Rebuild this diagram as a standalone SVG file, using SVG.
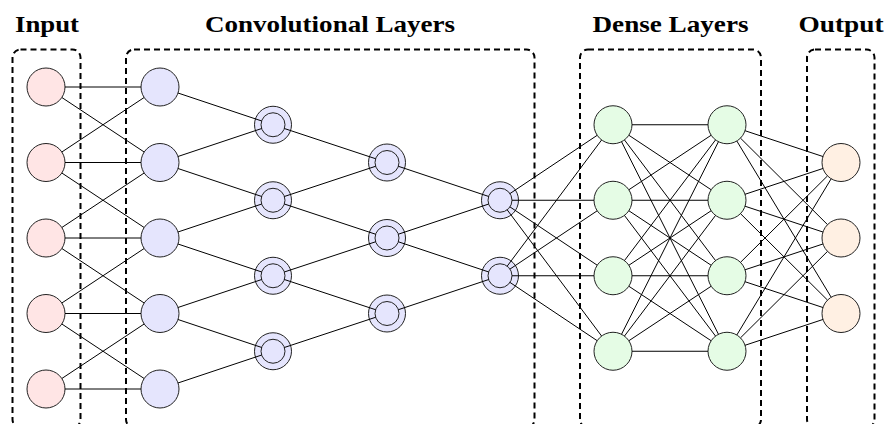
<svg xmlns="http://www.w3.org/2000/svg" width="887" height="424" viewBox="0 0 887 424">
<style>
.title{font-family:"Liberation Serif","Times New Roman",serif;font-weight:bold;font-size:24px;fill:#000;text-anchor:middle}
.box{fill:none;stroke:#000;stroke-width:2;stroke-dasharray:6 4}
.n{stroke:#222;stroke-width:1}
.in{fill:#ffe5e5}
.cv{fill:#e5e5fd}
.ds{fill:#e5fce5}
.out{fill:#fff0e3}
#connectors line{stroke:#000;stroke-width:1}
</style>
<rect width="887" height="424" fill="#fff"/>
<g id="titles">
<text class="title" x="47" y="32" textLength="64" lengthAdjust="spacingAndGlyphs">Input</text>
<text class="title" x="330" y="32" textLength="250" lengthAdjust="spacingAndGlyphs">Convolutional Layers</text>
<text class="title" x="670.5" y="32" textLength="156" lengthAdjust="spacingAndGlyphs">Dense Layers</text>
<text class="title" x="841" y="32" textLength="85" lengthAdjust="spacingAndGlyphs">Output</text>
</g>
<g id="boxes">
<rect id="box-input" class="box" x="12.5" y="49.5" width="68" height="378" rx="8"/>
<rect id="box-conv" class="box" x="126" y="49.5" width="408.5" height="378" rx="8"/>
<rect id="box-dense" class="box" x="580" y="49.5" width="181" height="378" rx="8"/>
<rect id="box-output" class="box" x="807" y="49.5" width="67.5" height="378" rx="8"/>
</g>
<g id="nodes">
<g id="in1"><circle class="n in" cx="46" cy="87" r="19"/></g>
<g id="in2"><circle class="n in" cx="46" cy="162.5" r="19"/></g>
<g id="in3"><circle class="n in" cx="46" cy="238" r="19"/></g>
<g id="in4"><circle class="n in" cx="46" cy="313.5" r="19"/></g>
<g id="in5"><circle class="n in" cx="46" cy="389" r="19"/></g>
<g id="c1_1"><circle class="n cv" cx="160" cy="87" r="19"/></g>
<g id="c1_2"><circle class="n cv" cx="160" cy="162.5" r="19"/></g>
<g id="c1_3"><circle class="n cv" cx="160" cy="238" r="19"/></g>
<g id="c1_4"><circle class="n cv" cx="160" cy="313.5" r="19"/></g>
<g id="c1_5"><circle class="n cv" cx="160" cy="389" r="19"/></g>
<g id="c2_1"><circle class="n cv" cx="273" cy="124.75" r="18.5"/><circle class="n cv" cx="273" cy="124.75" r="12"/></g>
<g id="c2_2"><circle class="n cv" cx="273" cy="200.25" r="18.5"/><circle class="n cv" cx="273" cy="200.25" r="12"/></g>
<g id="c2_3"><circle class="n cv" cx="273" cy="275.75" r="18.5"/><circle class="n cv" cx="273" cy="275.75" r="12"/></g>
<g id="c2_4"><circle class="n cv" cx="273" cy="351.25" r="18.5"/><circle class="n cv" cx="273" cy="351.25" r="12"/></g>
<g id="c3_1"><circle class="n cv" cx="387" cy="162.5" r="18.5"/><circle class="n cv" cx="387" cy="162.5" r="12"/></g>
<g id="c3_2"><circle class="n cv" cx="387" cy="238" r="18.5"/><circle class="n cv" cx="387" cy="238" r="12"/></g>
<g id="c3_3"><circle class="n cv" cx="387" cy="313.5" r="18.5"/><circle class="n cv" cx="387" cy="313.5" r="12"/></g>
<g id="c4_1"><circle class="n cv" cx="500" cy="200.25" r="18.5"/><circle class="n cv" cx="500" cy="200.25" r="12"/></g>
<g id="c4_2"><circle class="n cv" cx="500" cy="275.75" r="18.5"/><circle class="n cv" cx="500" cy="275.75" r="12"/></g>
<g id="d1_1"><circle class="n ds" cx="613" cy="124.75" r="19"/></g>
<g id="d1_2"><circle class="n ds" cx="613" cy="200.25" r="19"/></g>
<g id="d1_3"><circle class="n ds" cx="613" cy="275.75" r="19"/></g>
<g id="d1_4"><circle class="n ds" cx="613" cy="351.25" r="19"/></g>
<g id="d2_1"><circle class="n ds" cx="727" cy="124.75" r="19"/></g>
<g id="d2_2"><circle class="n ds" cx="727" cy="200.25" r="19"/></g>
<g id="d2_3"><circle class="n ds" cx="727" cy="275.75" r="19"/></g>
<g id="d2_4"><circle class="n ds" cx="727" cy="351.25" r="19"/></g>
<g id="out1"><circle class="n out" cx="841" cy="162.5" r="19"/></g>
<g id="out2"><circle class="n out" cx="841" cy="238" r="19"/></g>
<g id="out3"><circle class="n out" cx="841" cy="313.5" r="19"/></g>
</g>
<g id="connectors">
<line x1="65" y1="87" x2="141" y2="87"/>
<line x1="65" y1="162.5" x2="141" y2="162.5"/>
<line x1="65" y1="238" x2="141" y2="238"/>
<line x1="65" y1="313.5" x2="141" y2="313.5"/>
<line x1="65" y1="389" x2="141" y2="389"/>
<line x1="61.84" y1="97.49" x2="144.16" y2="152.01"/>
<line x1="61.84" y1="172.99" x2="144.16" y2="227.51"/>
<line x1="61.84" y1="248.49" x2="144.16" y2="303.01"/>
<line x1="61.84" y1="323.99" x2="144.16" y2="378.51"/>
<line x1="61.84" y1="152.01" x2="144.16" y2="97.49"/>
<line x1="61.84" y1="227.51" x2="144.16" y2="172.99"/>
<line x1="61.84" y1="303.01" x2="144.16" y2="248.49"/>
<line x1="61.84" y1="378.51" x2="144.16" y2="323.99"/>
<line x1="178.02" y1="93.02" x2="261.62" y2="120.95"/>
<line x1="178.02" y1="168.52" x2="261.62" y2="196.45"/>
<line x1="178.02" y1="244.02" x2="261.62" y2="271.95"/>
<line x1="178.02" y1="319.52" x2="261.62" y2="347.45"/>
<line x1="178.02" y1="156.48" x2="261.62" y2="128.55"/>
<line x1="178.02" y1="231.98" x2="261.62" y2="204.05"/>
<line x1="178.02" y1="307.48" x2="261.62" y2="279.55"/>
<line x1="178.02" y1="382.98" x2="261.62" y2="355.05"/>
<line x1="284.39" y1="128.52" x2="375.61" y2="158.73"/>
<line x1="284.39" y1="204.02" x2="375.61" y2="234.23"/>
<line x1="284.39" y1="279.52" x2="375.61" y2="309.73"/>
<line x1="284.39" y1="196.48" x2="375.61" y2="166.27"/>
<line x1="284.39" y1="271.98" x2="375.61" y2="241.77"/>
<line x1="284.39" y1="347.48" x2="375.61" y2="317.27"/>
<line x1="398.38" y1="166.3" x2="488.62" y2="196.45"/>
<line x1="398.38" y1="241.8" x2="488.62" y2="271.95"/>
<line x1="398.38" y1="234.2" x2="488.62" y2="204.05"/>
<line x1="398.38" y1="309.7" x2="488.62" y2="279.55"/>
<line x1="509.98" y1="193.58" x2="597.2" y2="135.31"/>
<line x1="512" y1="200.25" x2="594" y2="200.25"/>
<line x1="509.98" y1="206.92" x2="597.2" y2="265.19"/>
<line x1="507.19" y1="209.86" x2="601.62" y2="336.04"/>
<line x1="507.19" y1="266.14" x2="601.62" y2="139.96"/>
<line x1="509.98" y1="269.08" x2="597.2" y2="210.81"/>
<line x1="512" y1="275.75" x2="594" y2="275.75"/>
<line x1="509.98" y1="282.42" x2="597.2" y2="340.69"/>
<line x1="632" y1="124.75" x2="708" y2="124.75"/>
<line x1="628.84" y1="135.24" x2="711.16" y2="189.76"/>
<line x1="624.45" y1="139.91" x2="715.55" y2="260.59"/>
<line x1="621.54" y1="141.72" x2="718.46" y2="334.28"/>
<line x1="628.84" y1="189.76" x2="711.16" y2="135.24"/>
<line x1="632" y1="200.25" x2="708" y2="200.25"/>
<line x1="628.84" y1="210.74" x2="711.16" y2="265.26"/>
<line x1="624.45" y1="215.41" x2="715.55" y2="336.09"/>
<line x1="624.45" y1="260.59" x2="715.55" y2="139.91"/>
<line x1="628.84" y1="265.26" x2="711.16" y2="210.74"/>
<line x1="632" y1="275.75" x2="708" y2="275.75"/>
<line x1="628.84" y1="286.24" x2="711.16" y2="340.76"/>
<line x1="621.54" y1="334.28" x2="718.46" y2="141.72"/>
<line x1="624.45" y1="336.09" x2="715.55" y2="215.41"/>
<line x1="628.84" y1="340.76" x2="711.16" y2="286.24"/>
<line x1="632" y1="351.25" x2="708" y2="351.25"/>
<line x1="745.04" y1="130.72" x2="822.96" y2="156.53"/>
<line x1="740.48" y1="138.14" x2="827.52" y2="224.61"/>
<line x1="736.82" y1="141.01" x2="831.18" y2="297.24"/>
<line x1="745.04" y1="194.28" x2="822.96" y2="168.47"/>
<line x1="745.04" y1="206.22" x2="822.96" y2="232.03"/>
<line x1="740.48" y1="213.64" x2="827.52" y2="300.11"/>
<line x1="740.48" y1="262.36" x2="827.52" y2="175.89"/>
<line x1="745.04" y1="269.78" x2="822.96" y2="243.97"/>
<line x1="745.04" y1="281.72" x2="822.96" y2="307.53"/>
<line x1="736.82" y1="334.99" x2="831.18" y2="178.76"/>
<line x1="740.48" y1="337.86" x2="827.52" y2="251.39"/>
<line x1="745.04" y1="345.28" x2="822.96" y2="319.47"/>
</g>
</svg>
